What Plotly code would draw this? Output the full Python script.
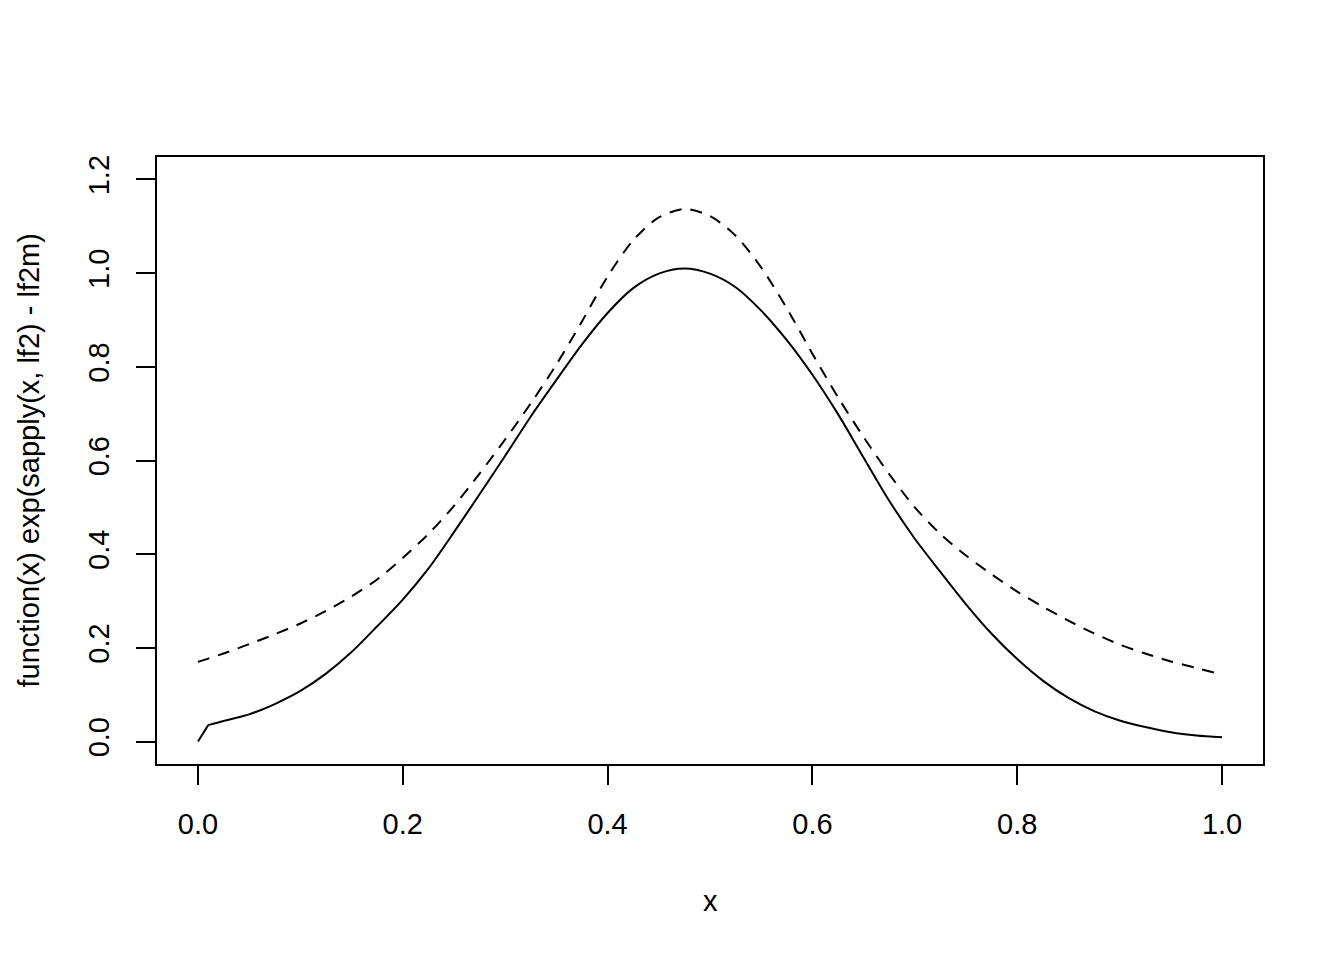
import plotly.graph_objects as go

x_vals = [0.0, 0.01, 0.025, 0.05, 0.075, 0.1, 0.125, 0.15, 0.175, 0.2, 0.225, 0.25,
          0.275, 0.3, 0.325, 0.35, 0.375, 0.4, 0.425, 0.45, 0.475, 0.5, 0.525,
          0.55, 0.575, 0.6, 0.625, 0.65, 0.675, 0.7, 0.725, 0.75, 0.775, 0.8,
          0.825, 0.85, 0.875, 0.9, 0.925, 0.95, 0.975, 1.0]

solid_vals = [0.000, 0.035, 0.044, 0.058, 0.080, 0.108, 0.145, 0.191, 0.246, 0.303,
              0.369, 0.447, 0.528, 0.610, 0.694, 0.772, 0.848, 0.915, 0.968, 0.999,
              1.010, 0.999, 0.970, 0.920, 0.857, 0.783, 0.699, 0.606, 0.514, 0.433,
              0.362, 0.293, 0.230, 0.176, 0.130, 0.093, 0.065, 0.045, 0.031, 0.020,
              0.013, 0.009]

dashed_vals = [0.170, 0.177, 0.188, 0.208, 0.229, 0.252, 0.279, 0.310, 0.346, 0.392,
               0.443, 0.503, 0.572, 0.645, 0.722, 0.805, 0.897, 0.993, 1.070, 1.119,
               1.137, 1.122, 1.080, 1.012, 0.925, 0.828, 0.735, 0.650, 0.571, 0.500,
               0.443, 0.397, 0.357, 0.320, 0.288, 0.258, 0.231, 0.207, 0.188, 0.171,
               0.157, 0.143]

x_ticks = [0.0, 0.2, 0.4, 0.6, 0.8, 1.0]
y_ticks = [0.0, 0.2, 0.4, 0.6, 0.8, 1.0, 1.2]

x_title = "x"
y_title = "function(x) exp(sapply(x, lf2) - lf2m)"

FONT = "Liberation Sans, Arial, Helvetica, sans-serif"
FS = 29

fig = go.Figure()
# first (straight) segment of the solid curve
fig.add_trace(go.Scatter(x=x_vals[:2], y=solid_vals[:2], mode="lines",
                         line=dict(color="black", width=2),
                         showlegend=False))
fig.add_trace(go.Scatter(x=x_vals[1:], y=solid_vals[1:], mode="lines",
                         line=dict(color="black", width=2, shape="spline", smoothing=0.8),
                         showlegend=False))
fig.add_trace(go.Scatter(x=x_vals, y=dashed_vals, mode="lines",
                         line=dict(color="black", width=2, dash="12px,9px", shape="spline", smoothing=0.8),
                         showlegend=False))

axis_common = dict(showline=True, mirror=True, linecolor="black", linewidth=1.8,
                   ticks="outside", ticklen=19, tickwidth=1.8, tickcolor="black",
                   showgrid=False, zeroline=False, tickformat=".1f",
                   tickfont=dict(family=FONT, size=FS, color="black"))

fig.update_xaxes(range=[-0.04, 1.04], tickvals=x_ticks, ticklabelstandoff=14, **axis_common)
fig.update_yaxes(range=[-0.048, 1.248], tickvals=y_ticks, tickangle=-90, ticklabelstandoff=16, **axis_common)

fig.update_layout(
    width=1344, height=960,
    margin=dict(l=149, r=89, t=149, b=204),
    paper_bgcolor="white", plot_bgcolor="white",
    font=dict(family=FONT, size=FS, color="black"),
    annotations=[
        dict(text=x_title, xref="paper", yref="paper", x=0.5, y=-0.2257,
             showarrow=False, xanchor="center", yanchor="middle",
             font=dict(family=FONT, size=FS, color="black")),
        dict(text=y_title, xref="paper", yref="paper", x=-0.1166, y=0.5,
             textangle=-90, showarrow=False, xanchor="center", yanchor="middle",
             font=dict(family=FONT, size=FS, color="black")),
    ],
)

fig.write_html("out.html")
